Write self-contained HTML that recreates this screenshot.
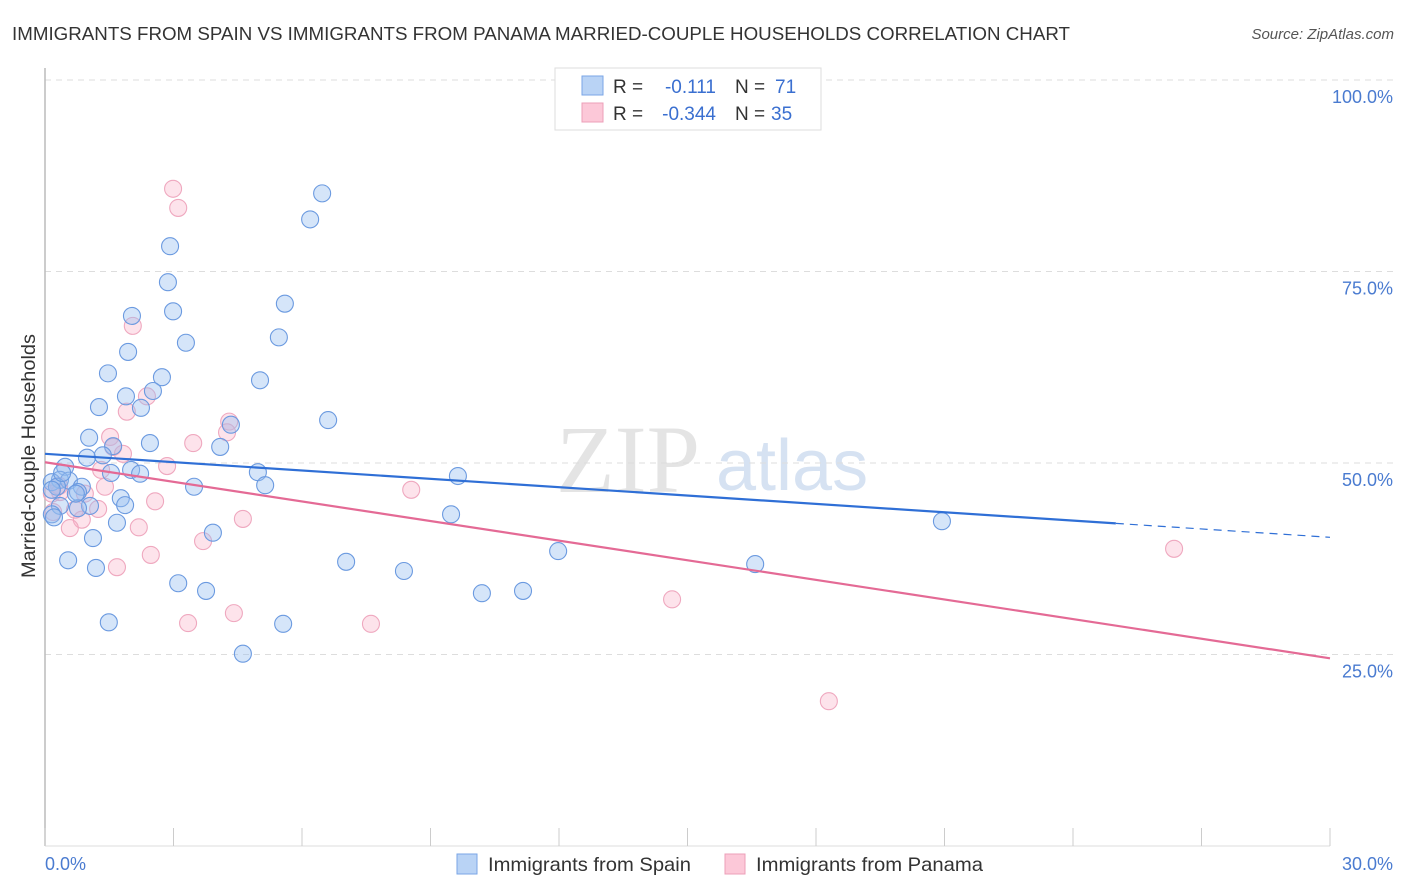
<!DOCTYPE html>
<html><head><meta charset="utf-8"><style>
body{margin:0;background:#fff;font-family:"Liberation Sans",sans-serif;}
svg{display:block}
</style></head><body>
<svg width="1406" height="892" viewBox="0 0 1406 892">
<text x="12" y="40" font-size="18.5" fill="#333" textLength="1058" lengthAdjust="spacingAndGlyphs">IMMIGRANTS FROM SPAIN VS IMMIGRANTS FROM PANAMA MARRIED-COUPLE HOUSEHOLDS CORRELATION CHART</text>
<text x="1394" y="39" font-size="15" fill="#555" font-style="italic" text-anchor="end">Source: ZipAtlas.com</text>
<text x="556" y="492" font-size="96" fill="#e4e4e4" font-family="Liberation Serif,serif">ZIP</text>
<text x="716" y="490" font-size="72" fill="#d6e2f2">atlas</text>
<g id="grid"></g>
<line x1="45" y1="68" x2="45" y2="846" stroke="#bbb" stroke-width="1.5"/>
<line x1="45" y1="846" x2="1330" y2="846" stroke="#ddd"/>
<text x="35" y="456" font-size="19" fill="#333" text-anchor="middle" textLength="244" lengthAdjust="spacingAndGlyphs" transform="rotate(-90 35 456)">Married-couple Households</text>
<text x="45" y="870" font-size="18" fill="#4a7bd0">0.0%</text>
<text x="1393" y="870" font-size="18" fill="#4a7bd0" text-anchor="end">30.0%</text>
<g id="ticks"></g>
<g id="points"></g>
<g id="lines"></g>
<g>
<rect x="555" y="68" width="266" height="62" fill="#fff" stroke="#ddd"/>
<rect x="582" y="76" width="21" height="19" fill="#b9d3f5" stroke="#7aa6e6"/>
<rect x="582" y="103" width="21" height="19" fill="#fcc8d8" stroke="#ec9fb8"/>
<text x="613" y="93" font-size="19" fill="#333">R =</text>
<text x="716" y="93" font-size="19" fill="#3a6fd0" text-anchor="end">-0.111</text>
<text x="735" y="93" font-size="19" fill="#333">N =</text>
<text x="775" y="93" font-size="19" fill="#3a6fd0">71</text>
<text x="613" y="120" font-size="19" fill="#333">R =</text>
<text x="716" y="120" font-size="19" fill="#3a6fd0" text-anchor="end">-0.344</text>
<text x="735" y="120" font-size="19" fill="#333">N =</text>
<text x="771" y="120" font-size="19" fill="#3a6fd0">35</text>
</g>
<g>
<rect x="457" y="854" width="20" height="20" fill="#b9d3f5" stroke="#7aa6e6"/>
<text x="488" y="871" font-size="19.5" fill="#333" textLength="203" lengthAdjust="spacingAndGlyphs">Immigrants from Spain</text>
<rect x="725" y="854" width="20" height="20" fill="#fcc8d8" stroke="#ec9fb8"/>
<text x="756" y="871" font-size="19.5" fill="#333" textLength="227" lengthAdjust="spacingAndGlyphs">Immigrants from Panama</text>
</g>
</svg>
<script>
const yTicks=[100,75,50,25];
const yTickLabels=["100.0%","75.0%","50.0%","25.0%"];
const xTickValues=[0,3,6,9,12,15,18,21,24,27,30];
const spainX=[6.47,6.19,2.92,2.87,2.99,5.60,2.03,3.29,5.46,1.94,1.47,2.73,5.02,1.89,2.52,2.24,1.26,6.61,4.34,1.03,2.45,1.59,4.09,0.98,1.35,0.47,1.54,2.01,2.22,4.97,9.64,0.35,0.56,0.16,0.28,0.86,0.77,3.48,5.14,1.77,1.05,1.87,0.35,0.16,1.68,0.77,0.72,3.92,1.12,0.54,1.19,7.03,8.38,11.98,16.58,9.48,20.94,3.11,3.76,10.20,11.16,1.49,5.56,4.62,0.21,0.16,0.40];
const spainY=[85.2,81.8,78.3,73.6,69.8,70.8,69.2,65.7,66.4,64.5,61.7,61.2,60.8,58.7,59.4,57.2,57.3,55.6,55.0,53.3,52.6,52.2,52.1,50.7,51.0,49.5,48.7,49.1,48.6,48.8,48.3,47.8,47.7,47.5,46.9,46.9,46.2,46.9,47.1,45.4,44.4,44.5,44.4,43.3,42.2,44.1,46.0,40.9,40.2,37.3,36.3,37.1,35.9,38.5,36.8,43.3,42.4,34.3,33.3,33.0,33.3,29.2,29.0,25.1,42.9,46.5,48.7];
const panamaX=[2.99,3.11,2.05,2.38,1.91,4.30,4.25,1.52,3.46,1.59,1.82,2.85,1.31,0.33,0.35,1.40,0.93,0.16,8.55,1.24,0.70,2.57,0.86,0.58,4.62,2.19,3.69,2.47,1.68,3.34,4.41,7.61,14.64,18.30,26.36,0.19];
const panamaY=[85.8,83.3,67.9,58.7,56.7,55.4,54.0,53.4,52.6,52.1,51.2,49.6,49.1,47.0,46.2,46.9,46.0,46.0,46.5,44.0,43.9,45.0,42.6,41.5,42.7,41.6,39.8,38.0,36.4,29.1,30.4,29.0,32.2,18.9,38.8,43.6];
const spainTrend=[51.2,40.3];
const panamaTrend=[50.1,24.5];
const NS="http://www.w3.org/2000/svg";
const X=v=>45+v/30*1285, Y=v=>846-v/100*766;
function mk(t,a,p){const e=document.createElementNS(NS,t);for(const k in a)e.setAttribute(k,a[k]);p.appendChild(e);return e;}
const grid=document.getElementById('grid');
yTicks.forEach((v,i)=>{
 const l=mk('line',{x1:45,x2:1394,y1:Y(v),y2:Y(v),stroke:'#ddd','stroke-dasharray':'6 5'},grid);
 
 
 const t=mk('text',{x:1393,y:Y(v)+23,'font-size':18,fill:'#4a7bd0','text-anchor':'end'},grid);
 t.textContent=yTickLabels[i];
 
 
});
const tk=document.getElementById('ticks');
xTickValues.forEach(v=>{
 const l=mk('line',{x1:X(v),x2:X(v),y1:828,y2:846,stroke:'#ccc'},tk);
 
 
});
const pts=document.getElementById('points');
panamaX.forEach((x,i)=>{
 const c=mk('circle',{cx:X(x),cy:Y(panamaY[i]),r:8.5,fill:'rgba(248,176,198,0.35)',stroke:'#efa8bf','stroke-width':1.1},pts);
 
 
});
spainX.forEach((x,i)=>{
 const c=mk('circle',{cx:X(x),cy:Y(spainY[i]),r:8.5,fill:'rgba(150,190,240,0.4)',stroke:'#6b9ae0','stroke-width':1.1},pts);
 
 
});
const ln=document.getElementById('lines');
const bEnd=25;
const bMid=spainTrend[0]+(spainTrend[1]-spainTrend[0])*bEnd/30;
let l1=mk('line',{x1:X(0),y1:Y(spainTrend[0]),x2:X(bEnd),y2:Y(bMid),stroke:'#2f6fd6','stroke-width':2.2},ln);


let l2=mk('line',{x1:X(bEnd),y1:Y(bMid),x2:X(30),y2:Y(spainTrend[1]),stroke:'#2f6fd6','stroke-width':1.2,'stroke-dasharray':'8 6'},ln);


let l3=mk('line',{x1:X(0),y1:Y(panamaTrend[0]),x2:X(30),y2:Y(panamaTrend[1]),stroke:'#e46a95','stroke-width':2.2},ln);


</script>
</body></html>
